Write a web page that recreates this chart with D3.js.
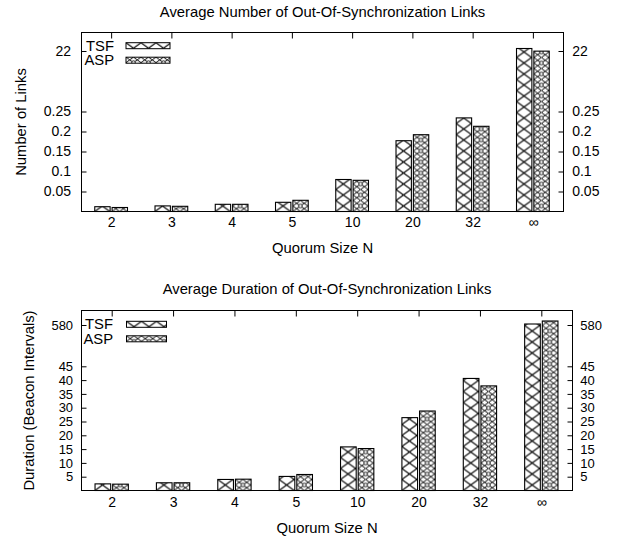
<!DOCTYPE html>
<html>
<head>
<meta charset="utf-8">
<script src="https://cdn.jsdelivr.net/npm/d3@7"></script>
<style>
body { margin: 0; background: #fff; }
svg text { font-family: 'Liberation Sans', Arial, Helvetica, sans-serif; font-size: 14.8px; fill: #000; }
svg .tick text { font-size: 14px; }
svg .dense .tick text { font-size: 13px; }
</style>
</head>
<body>
<div id="chart"></div>
<script>
const width = 626;
const height = 542;

// quorum sizes on the x axis
const categories = ['2', '3', '4', '5', '10', '20', '32', '∞'];
const series = ['TSF', 'ASP'];

// average number of out-of-sync links
const linksTSF = [0.012, 0.014, 0.018, 0.023, 0.080, 0.177, 0.234, 22.25];
const linksASP = [0.010, 0.013, 0.018, 0.028, 0.078, 0.192, 0.213, 21.95];
const linksTicks = [0.05, 0.1, 0.15, 0.2, 0.25, 22];

// average duration (beacon intervals)
const durationTSF = [2.4, 2.8, 4.0, 5.1, 15.8, 26.4, 40.6, 585];
const durationASP = [2.3, 2.8, 4.1, 5.8, 15.2, 28.8, 37.9, 600];
const durationTicks = [5, 10, 15, 20, 25, 30, 35, 40, 45, 580];

const svg = d3.select('#chart')
    .append('svg')
    .attr('width', width)
    .attr('height', height);

// fill patterns, gnuplot style
const defs = svg.append('defs');
const pw = 15, ph = 11;

const tsfPat = defs.append('pattern')
    .attr('id', 'pat-tsf')
    .attr('patternUnits', 'userSpaceOnUse')
    .attr('width', pw)
    .attr('height', ph);
tsfPat.append('rect').attr('width', pw).attr('height', ph).attr('fill', '#fff');
tsfPat.append('path')
    .attr('d', `M0,0L${pw},${ph}M${pw},0L0,${ph}`)
    .attr('stroke', '#000')
    .attr('stroke-width', 1.1)
    .attr('fill', 'none');

const aspPat = defs.append('pattern')
    .attr('id', 'pat-asp')
    .attr('patternUnits', 'userSpaceOnUse')
    .attr('width', pw)
    .attr('height', ph);
aspPat.append('rect').attr('width', pw).attr('height', ph).attr('fill', '#fff');
aspPat.append('path')
    .attr('d', `M0,0L${pw},${ph}M${pw},0L0,${ph}` +
        `M${pw / 2},0L${pw},${ph / 2}M0,${ph / 2}L${pw / 2},${ph}` +
        `M${pw / 2},0L0,${ph / 2}M${pw},${ph / 2}L${pw / 2},${ph}`)
    .attr('stroke', '#000')
    .attr('stroke-width', 1)
    .attr('fill', 'none');
aspPat.append('circle')
    .attr('cx', pw / 2).attr('cy', ph / 2).attr('r', 1.8)
    .attr('fill', '#fff')
    .attr('stroke', '#000')
    .attr('stroke-width', 0.9);

function drawPanel(cfg) {
    const { left, right, top, bottom } = cfg;

    const x = d3.scaleBand().domain(categories).range([left, right]);
    const w = x.bandwidth() * 0.255;
    const gap = 2;
    const inner = d3.scaleBand()
        .domain(series)
        .range([-w - gap / 2 - 0.5, w + gap / 2 - 0.5])
        .paddingInner(gap / (gap + w));

    // broken axis: piecewise linear scale
    const y = d3.scaleLinear().domain(cfg.domain).range(cfg.range);

    const rows = categories.map((c, i) => ({
        c,
        values: [
            { s: 'TSF', v: cfg.tsf[i] },
            { s: 'ASP', v: cfg.asp[i] }
        ]
    }));

    svg.append('g')
        .selectAll('g')
        .data(rows)
        .join('g')
        .attr('transform', d => `translate(${x(d.c) + x.bandwidth() / 2},0)`)
        .selectAll('g')
        .data(d => d.values)
        .join('g')
        .attr('transform', d => `translate(${inner(d.s)},${bottom})`)
        .append('rect')
        .attr('x', 0)
        .attr('y', d => y(d.v) - bottom)
        .attr('width', inner.bandwidth())
        .attr('height', d => bottom - y(d.v))
        .attr('fill', d => `url(#pat-${d.s.toLowerCase()})`)
        .attr('stroke', '#000')
        .attr('stroke-width', 1.1);

    // frame
    svg.append('rect')
        .attr('x', left)
        .attr('y', top)
        .attr('width', right - left)
        .attr('height', bottom - top)
        .attr('fill', 'none')
        .attr('stroke', '#000');

    // axes
    svg.append('g')
        .attr('class', cfg.dense ? 'dense' : null)
        .attr('transform', `translate(${left},0)`)
        .call(d3.axisLeft(y).tickValues(cfg.ticks).tickSize(-5).tickPadding(cfg.padL).tickFormat(String))
        .call(g => g.select('.domain').remove());

    svg.append('g')
        .attr('class', cfg.dense ? 'dense' : null)
        .attr('transform', `translate(${right},0)`)
        .call(d3.axisRight(y).tickValues(cfg.ticks).tickSize(-5).tickPadding(cfg.padR).tickFormat(String))
        .call(g => g.select('.domain').remove());

    svg.append('g')
        .attr('transform', `translate(0,${top})`)
        .call(d3.axisTop(x).tickSize(-6).tickFormat(''))
        .call(g => g.select('.domain').remove());

    svg.append('g')
        .attr('transform', `translate(0,${bottom})`)
        .call(d3.axisBottom(x).tickSize(0).tickPadding(cfg.padB))
        .call(g => g.select('.domain').remove());

    // legend
    series.forEach((s, i) => {
        const cy = cfg.legendY + i * 14.5;
        svg.append('text')
            .attr('x', cfg.legendTextX)
            .attr('y', cy + 5)
            .attr('text-anchor', 'end')
            .text(s);
        svg.append('g')
            .attr('transform', `translate(${cfg.swatchX},${cy - 3})`)
            .append('rect')
            .attr('width', cfg.swatchW)
            .attr('height', 6)
            .attr('fill', `url(#pat-${s.toLowerCase()})`)
            .attr('stroke', '#000');
    });

    // titles
    const cx = (left + right) / 2;
    svg.append('text')
        .attr('x', cx)
        .attr('y', cfg.titleY)
        .attr('text-anchor', 'middle')
        .text(cfg.title);

    svg.append('text')
        .attr('x', cx)
        .attr('y', cfg.xLabelY)
        .attr('text-anchor', 'middle')
        .text('Quorum Size N');

    svg.append('text')
        .attr('transform', `translate(${cfg.yLabelX},${(top + bottom) / 2}) rotate(-90)`)
        .attr('text-anchor', 'middle')
        .text(cfg.yLabel);
}

drawPanel({
    left: 81.5, right: 563.5, top: 32.5, bottom: 211.5,
    domain: [0, 0.25, 22, 23],
    range: [211.5, 111.5, 51, 41],
    ticks: linksTicks,
    tsf: linksTSF, asp: linksASP,
    padL: 10.5, padR: 8.7, padB: 5.3,
    legendY: 45.7, legendTextX: 114, swatchX: 126, swatchW: 44,
    title: 'Average Number of Out-Of-Synchronization Links',
    titleY: 17, xLabelY: 253, yLabelX: 25.5,
    yLabel: 'Number of Links'
});

drawPanel({
    left: 81.5, right: 572.5, top: 310.5, bottom: 490.5,
    domain: [0, 45, 580, 680],
    range: [490.5, 366.3, 325, 305],
    ticks: durationTicks,
    tsf: durationTSF, asp: durationASP,
    padL: 8.4, padR: 7.7, padB: 7,
    legendY: 324.3, legendTextX: 113, swatchX: 126.5, swatchW: 40,
    dense: true,
    title: 'Average Duration of Out-Of-Synchronization Links',
    titleY: 294, xLabelY: 533, yLabelX: 33.5,
    yLabel: 'Duration (Beacon Intervals)'
});
</script>
</body>
</html>
